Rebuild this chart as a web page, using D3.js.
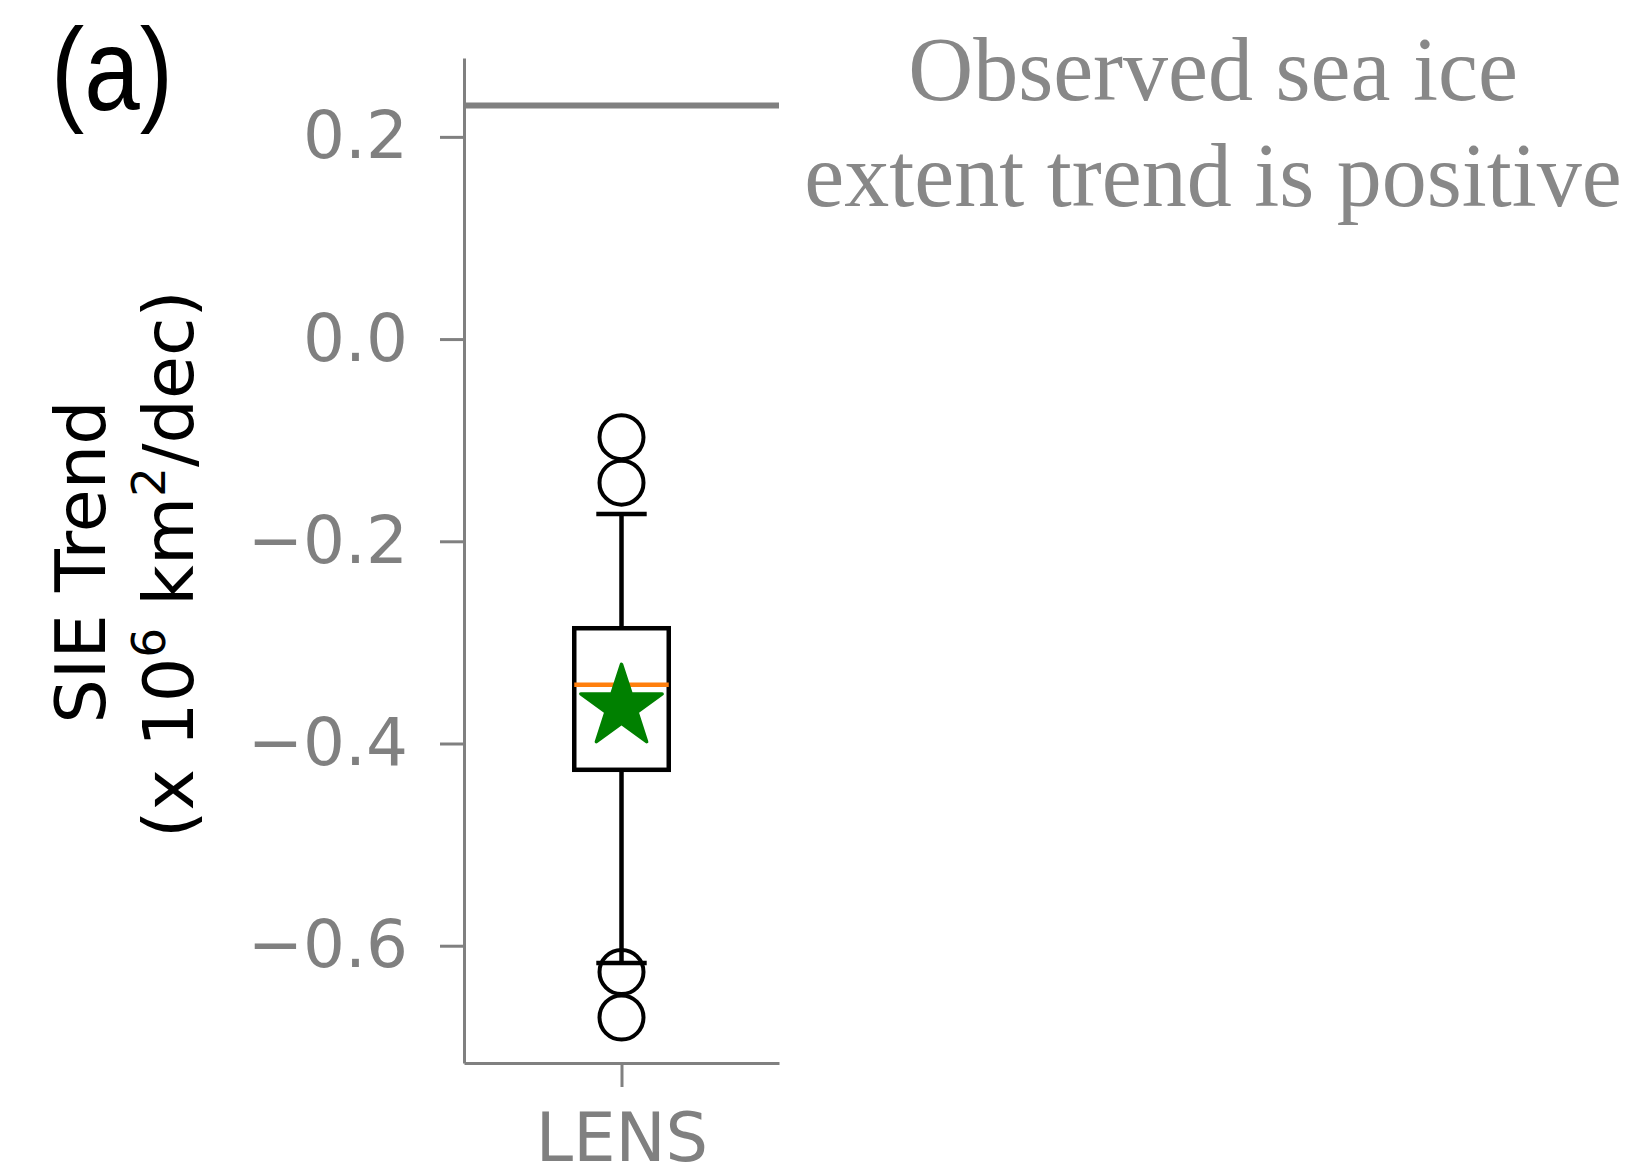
<!DOCTYPE html>
<html>
<head>
<meta charset="utf-8">
<script src="https://cdn.jsdelivr.net/npm/d3@7"></script>
<style>
    body { margin: 0; background: #fff; }
    svg { display: block; }
</style>
</head>
<body>
<svg></svg>
<script>
// box plot of LENS sea ice extent trends vs observed trend

const categories = ["LENS"]
const q1 = [-0.426]
const median = [-0.342]
const q3 = [-0.286]
const whiskerLow = [-0.617]
const whiskerHigh = [-0.173]
const means = [-0.364]
const outliers = [[-0.097, -0.142, -0.626, -0.671]]
const observed = [0.231]
const yTicks = [0.2, 0.0, -0.2, -0.4, -0.6]

const svg = d3.select("svg")

svg
    .attr("width", 1650)
    .attr("height", 1169)

const axisGray = "#808080"

const scaleX = d3.scaleLinear()
    .domain([0.5, 1.5])
    .range([464, 779])

const scaleY = d3.scaleLinear()
    .domain([-0.716, 0.278])
    .range([1063, 58])

// observed trend line
svg
    .selectAll("line.observed")
    .data(observed)
    .enter()
    .append("line")
    .attr("class", "observed")
    .attr("x1", scaleX(0.5))
    .attr("x2", scaleX(1.5))
    .attr("y1", d => scaleY(d))
    .attr("y2", d => scaleY(d))
    .attr("stroke", axisGray)
    .attr("stroke-width", 6)

// axes
const yAxis = svg.append("g")
    .attr("transform", `translate(${scaleX(0.5)},0)`)
    .call(d3.axisLeft(scaleY)
        .tickValues(yTicks)
        .tickFormat(d3.format(".1f"))
        .tickSize(24)
        .tickSizeOuter(0)
        .tickPadding(32))

const xAxis = svg.append("g")
    .attr("transform", `translate(0,${scaleY(-0.716)})`)
    .call(d3.axisBottom(scaleX)
        .tickValues([1])
        .tickFormat((d, i) => categories[i])
        .tickSize(24)
        .tickSizeOuter(0)
        .tickPadding(26))

svg.selectAll(".domain, .tick line")
    .attr("stroke", axisGray)
    .attr("stroke-width", 3)

yAxis.selectAll(".tick text")
    .attr("fill", axisGray)
    .style("font-family", "DejaVu Sans")
    .style("font-size", "66px")

xAxis.selectAll(".tick text")
    .attr("fill", axisGray)
    .style("font-family", "DejaVu Sans")
    .style("font-size", "67px")

// the box plot
const boxes = svg
    .selectAll("g.box")
    .data(categories)
    .enter()
    .append("g")
    .attr("class", "box")

const pos = 1
const halfW = 0.15
const capW = 0.08

boxes.append("line")
    .attr("x1", scaleX(pos)).attr("x2", scaleX(pos))
    .attr("y1", (d, i) => scaleY(q3[i]))
    .attr("y2", (d, i) => scaleY(whiskerHigh[i]))

boxes.append("line")
    .attr("x1", scaleX(pos)).attr("x2", scaleX(pos))
    .attr("y1", (d, i) => scaleY(q1[i]))
    .attr("y2", (d, i) => scaleY(whiskerLow[i]))

boxes.append("line")
    .attr("x1", scaleX(pos - capW)).attr("x2", scaleX(pos + capW))
    .attr("y1", (d, i) => scaleY(whiskerHigh[i]))
    .attr("y2", (d, i) => scaleY(whiskerHigh[i]))

boxes.append("line")
    .attr("x1", scaleX(pos - capW)).attr("x2", scaleX(pos + capW))
    .attr("y1", (d, i) => scaleY(whiskerLow[i]))
    .attr("y2", (d, i) => scaleY(whiskerLow[i]))

boxes.selectAll("line")
    .attr("stroke", "#000")
    .attr("stroke-width", 4.5)

boxes.append("rect")
    .attr("x", scaleX(pos - halfW))
    .attr("width", scaleX(pos + halfW) - scaleX(pos - halfW))
    .attr("y", (d, i) => scaleY(q3[i]))
    .attr("height", (d, i) => scaleY(q1[i]) - scaleY(q3[i]))
    .attr("fill", "none")
    .attr("stroke", "#000")
    .attr("stroke-width", 4.5)

boxes.append("line")
    .attr("x1", scaleX(pos - halfW)).attr("x2", scaleX(pos + halfW))
    .attr("y1", (d, i) => scaleY(median[i]))
    .attr("y2", (d, i) => scaleY(median[i]))
    .attr("stroke", "#ff7f0e")
    .attr("stroke-width", 4.5)

boxes.each(function(d, i) {
    d3.select(this)
        .selectAll("circle")
        .data(outliers[i])
        .enter()
        .append("circle")
        .attr("cx", scaleX(pos))
        .attr("cy", v => scaleY(v))
        .attr("r", 22)
        .attr("fill", "none")
        .attr("stroke", "#000")
        .attr("stroke-width", 4)
})

boxes.append("path")
    .attr("d", d3.symbol().type(d3.symbolStar).size(2050))
    .attr("transform", (d, i) => `translate(${scaleX(pos)},${scaleY(means[i])})`)
    .attr("fill", "#008000")
    .attr("stroke", "#008000")
    .attr("stroke-width", 3.5)
    .attr("stroke-linejoin", "round")

// y label, two lines
const ylab = svg.append("g")
    .style("font-family", "DejaVu Sans")
    .style("font-size", "70px")
    .attr("fill", "#000")
    .attr("text-anchor", "middle")

ylab.append("text")
    .attr("transform", "translate(105,562) rotate(-90)")
    .text("SIE Trend")

const ylab2 = ylab.append("text")
    .attr("transform", "translate(193,564) rotate(-90)")

ylab2.append("tspan").text("(x 10")
ylab2.append("tspan").attr("dy", -28).style("font-size", "47px").text("6")
ylab2.append("tspan").attr("dy", 28).text(" km")
ylab2.append("tspan").attr("dy", -28).style("font-size", "47px").text("2")
ylab2.append("tspan").attr("dy", 28).text("/dec)")

// panel letter
svg.append("text")
    .attr("x", 51)
    .attr("y", 110)
    .attr("textLength", 122)
    .attr("lengthAdjust", "spacingAndGlyphs")
    .style("font-family", "Liberation Sans")
    .style("font-size", "116px")
    .attr("fill", "#000")
    .text("(a)")

// annotation
const note = svg.append("text")
    .attr("text-anchor", "middle")
    .style("font-family", "Liberation Serif")
    .style("font-size", "90px")
    .attr("fill", "#888")

note.append("tspan").attr("x", 1213).attr("y", 100).text("Observed sea ice")
note.append("tspan").attr("x", 1213).attr("y", 206).text("extent trend is positive")
</script>
</body>
</html>
